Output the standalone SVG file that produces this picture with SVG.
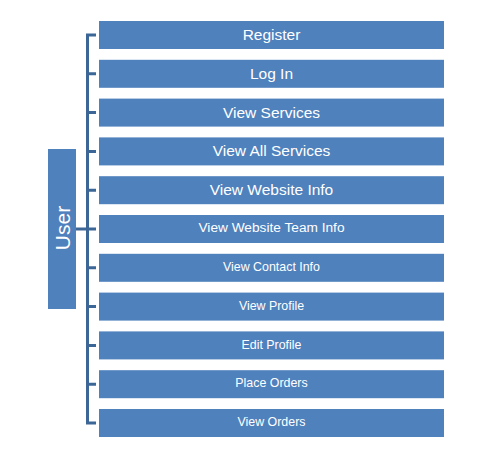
<svg xmlns="http://www.w3.org/2000/svg" width="503" height="462" viewBox="0 0 503 462">
<style>
.box{fill:#4F81BD}
.lbl{fill:#FFFFFF;font-family:"Liberation Sans",Arial,sans-serif;text-anchor:middle}
.l15{font-size:15.5px}
.l13{font-size:13.7px}
.l12{font-size:12.4px}
.con{stroke:#3C6696;stroke-width:3;fill:none}
</style>
<rect width="503" height="462" fill="#FFFFFF"/>
<g id="connectors">
<path class="con" d="M96 35H87.5V423H96"/>
<path class="con" d="M87.5 73.8H96M87.5 112.6H96M87.5 151.4H96M87.5 190.2H96M87.5 229H96M87.5 267.8H96M87.5 306.6H96M87.5 345.4H96M87.5 384.2H96"/>
<path class="con" d="M76 229H87.5"/>
</g>
<g id="user">
<rect class="box" x="48" y="149" width="28" height="160"/>
<text class="lbl" font-size="21" transform="translate(69.5 228) rotate(-90)">User</text>
</g>
<g id="n1"><rect class="box" x="99" y="21" width="345" height="28"/><text class="lbl l15" x="271.5" y="40.3">Register</text></g>
<g id="n2"><rect class="box" x="99" y="59.8" width="345" height="28"/><text class="lbl l15" x="271.5" y="79.1">Log In</text></g>
<g id="n3"><rect class="box" x="99" y="98.6" width="345" height="28"/><text class="lbl l15" x="271.5" y="117.8">View Services</text></g>
<g id="n4"><rect class="box" x="99" y="137.4" width="345" height="28"/><text class="lbl l15" x="271.5" y="156.2">View All Services</text></g>
<g id="n5"><rect class="box" x="99" y="176.2" width="345" height="28"/><text class="lbl l15" x="271.5" y="194.7">View Website Info</text></g>
<g id="n6"><rect class="box" x="99" y="215" width="345" height="28"/><text class="lbl l13" x="271.5" y="232.4">View Website Team Info</text></g>
<g id="n7"><rect class="box" x="99" y="253.8" width="345" height="28"/><text class="lbl l12" x="271.5" y="271.2">View Contact Info</text></g>
<g id="n8"><rect class="box" x="99" y="292.6" width="345" height="28"/><text class="lbl l12" x="271.5" y="309.8">View Profile</text></g>
<g id="n9"><rect class="box" x="99" y="331.4" width="345" height="28"/><text class="lbl l12" x="271.5" y="348.6">Edit Profile</text></g>
<g id="n10"><rect class="box" x="99" y="370.2" width="345" height="28"/><text class="lbl l12" x="271.5" y="387.4">Place Orders</text></g>
<g id="n11"><rect class="box" x="99" y="409" width="345" height="28"/><text class="lbl l12" x="271.5" y="426.2">View Orders</text></g>
</svg>
